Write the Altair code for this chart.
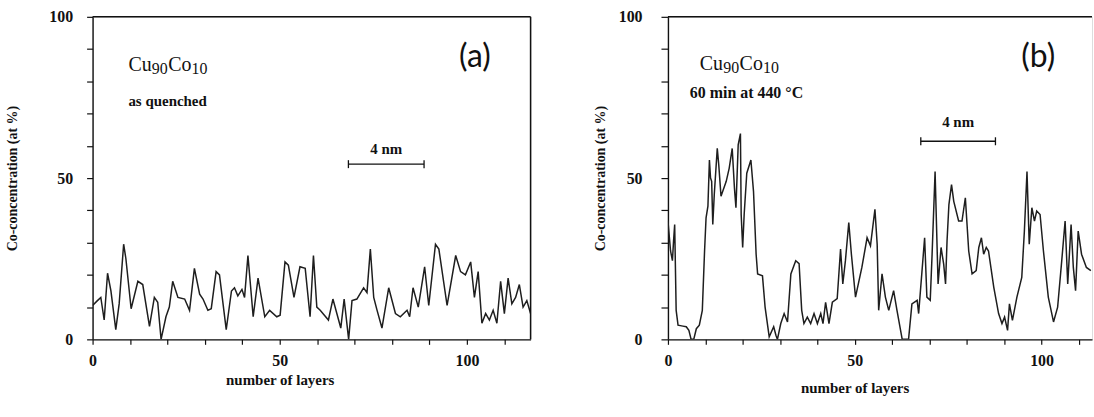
import altair as alt
import pandas as pd

# ---- panel (a): as quenched ----
layers_a = [0, 1.3, 2.2, 3.1, 4, 4.9, 6.2, 7.1, 8.3, 8.9, 10.3, 12.1, 13.4, 15.2, 16.5, 17.4,
            18.3, 19.6, 20.5, 21.4, 22.8, 24.6, 25.9, 27.2, 28.6, 29.5, 30.8, 31.7, 33, 33.9,
            35.7, 37.1, 37.9, 38.8, 39.9, 40.6, 41.5, 42.9, 44.2, 46, 47.3, 49.2, 50.1, 51.4,
            52.3, 53.8, 55.4, 56.8, 58.1, 59, 59.9, 60.8, 63, 64.2, 66.3, 67.2, 68.4, 69.3,
            70.6, 72.4, 73.3, 74.2, 75.1, 76, 77.3, 79.1, 80.9, 82.2, 84, 84.7, 85.6, 87,
            88.7, 89.8, 91.6, 92.5, 94.7, 97, 98.3, 99.6, 101, 102, 103, 104, 105, 106, 107,
            108, 109, 110, 111, 112, 113, 114, 115, 116, 117]
conc_a = [10.5, 12, 13, 6, 20.5, 15, 3, 11, 29.5, 25, 9.5, 18, 17, 4, 13, 11.5,
          0, 7, 10, 18, 13, 12.5, 9, 22, 14, 12.5, 9, 9.5, 21, 20,
          3, 15, 16, 13.5, 15.5, 13, 26, 7, 19, 7, 9, 7, 7.5, 24,
          23, 13, 22.5, 22, 7, 26, 10, 9, 6, 12.5, 3.5, 12.5, 0, 12,
          12.5, 16, 14.5, 28, 13, 9, 3.5, 16, 8, 7, 9, 7, 16, 10,
          22.5, 10.5, 29.5, 28, 10.5, 26, 21, 20, 24, 13, 21, 5, 8, 6, 9,
          5, 18, 8, 19, 11, 13, 17, 10, 12, 8]

# ---- panel (b): 60 min at 440 °C ----
layers_b = [0, 0.7, 1.2, 1.5, 1.8, 2.2, 2.7, 4, 4.9, 5.6, 6.2, 6.9, 7.6, 8.4, 9.2, 9.8,
            10.2, 10.7, 11.1, 11.4, 11.7, 12, 12.4, 13.2, 13.6, 14.2, 15.6, 16.4, 17.2, 17.8,
            18.2, 18.8, 19.4, 19.6, 20, 20.4, 21.1, 22.2, 22.9, 23.6, 24, 25.3, 26, 27.1,
            28.3, 28.9, 29.3, 30.2, 31.1, 32, 32.9, 34.2, 35.1, 35.8, 36.4, 37.3, 38.2, 39.1,
            40, 40.9, 41.5, 42.2, 43.1, 44, 45.3, 46.2, 46.8, 47.5, 48.4, 49.1, 50.2, 51.9,
            53.3, 54.2, 55.4, 56, 56.4, 57.3, 58.2, 59.1, 60.4, 61.3, 62.7, 64.4, 65.3, 66.7,
            67.1, 68.7, 69.3, 70.2, 70.7, 71.5, 72.3, 73.1, 73.8, 74.3, 74.7, 75.2, 75.9,
            76.5, 77.8, 78.7, 79.6, 80.5, 81.4, 82.5, 83.2, 83.9, 84.5, 85.2, 85.8, 87.2,
            88.5, 89.4, 90.1, 90.9, 91.4, 92.2, 93.4, 94.7, 95.4, 96.1, 96.7, 97.4, 98.1,
            98.7, 99.6, 100.5, 101.8, 103.2, 104.3, 105.4, 106.3, 107, 107.9, 108.5, 109.1,
            109.8, 110.7, 112, 113.2]
conc_b = [36.7, 27.4, 24.4, 30.5, 35.6, 9, 4.4, 4.1, 3.9, 2.8, 0, 0, 3.3, 4.4, 9, 27.4,
          37.7, 41.3, 55.6, 50, 49, 35.6, 44.9, 59.2, 54.1, 44.4, 49, 53.1, 59.2, 46.9,
          40.8, 60.3, 63.8, 38.7, 28.5, 38.7, 51.5, 55.6, 45.9, 26.4, 20.3, 19.7, 10, 0.8,
          3.9, 1.3, 0, 4.9, 8, 5.4, 20.3, 24.4, 23.5, 9, 4.9, 6.9, 4.9, 8,
          4.9, 8, 4.9, 11.5, 4.9, 11.5, 12.6, 28, 17.2, 24.4, 36.2, 26.4, 13.1, 22.3,
          31.5, 29, 40.3, 29.5, 9, 20.3, 13.1, 9, 15.1, 9, 0, 0, 11, 12.1,
          8, 31.5, 13.1, 12.1, 26.4, 52, 17.2, 28.5, 23.3, 17.2, 30.5, 41.8, 48,
          42.8, 36.7, 36.7, 43.9, 27.4, 20.3, 21.3, 28.5, 31.5, 26.4, 28.5, 27.4, 16.2,
          8, 4.9, 6.9, 2.8, 11, 5.9, 13.1, 19.2, 33.6, 52, 29.5, 40.8, 36.7,
          39.8, 38.7, 27.4, 13.1, 5.4, 10, 24.4, 36.7, 17.2, 35.6, 22.3, 15.1,
          33.6, 26.4, 22.3, 21.3]

x_ticks = list(range(0, 120, 10))
y_ticks = list(range(0, 101, 10))

SERIF = "Liberation Serif"
INK = "#111111"
LBL = "datum.value % 50 === 0 ? datum.label : ''"
H = 324


def one_row():
    return alt.Chart(pd.DataFrame({"k": [0]}))


def panel(layers, conc, xmax, width, y_tick, y_lpad, y_tpad, x_tpad, title_x, right_frame, notes):
    df = pd.DataFrame({"layer": layers, "conc": conc})
    xaxis = alt.Axis(values=x_ticks, labelExpr=LBL, title="number of layers", grid=False,
                     tickSize=5, tickColor=INK, domainColor=INK, domainWidth=1.4, tickWidth=1.2,
                     labelFont=SERIF, labelFontWeight="bold", labelFontSize=16, labelColor=INK,
                     labelPadding=8, labelFlush=False, labelOverlap=False,
                     titleFont=SERIF, titleFontWeight="bold", titleFontSize=15,
                     titleColor=INK, titlePadding=x_tpad, titleX=title_x)
    yaxis = alt.Axis(values=y_ticks, labelExpr=LBL, title="Co-concentration (at %)", grid=False,
                     tickSize=y_tick, tickColor=INK, domainColor=INK, domainWidth=1.4, tickWidth=1.2,
                     labelFont=SERIF, labelFontWeight="bold", labelFontSize=16, labelColor=INK,
                     labelPadding=y_lpad, labelOverlap=False,
                     titleFont=SERIF, titleFontWeight="bold", titleFontSize=14,
                     titleColor=INK, titlePadding=y_tpad)
    line = alt.Chart(df).mark_line(color="#1e1e1e", strokeWidth=1.5, clip=True).encode(
        x=alt.X("layer:Q", scale=alt.Scale(domain=[0, xmax], nice=False, zero=False), axis=xaxis),
        y=alt.Y("conc:Q", scale=alt.Scale(domain=[0, 100], nice=False), axis=yaxis),
    )
    frame = [one_row().mark_rule(color=INK, strokeWidth=1.5).encode(
        x=alt.value(0), x2=alt.value(width), y=alt.value(0))]
    if right_frame:
        frame.append(one_row().mark_rule(color=INK, strokeWidth=1.5).encode(
            x=alt.value(width), y=alt.value(0), y2=alt.value(H)))
    return alt.layer(line, *frame, *notes).properties(width=width, height=H)


def formula(x, y):
    base = one_row()
    parts = [
        base.mark_text(text="Cu", font=SERIF, fontSize=20, align="left", color=INK),
        base.mark_text(text="90", font=SERIF, fontSize=16, align="left", dx=23.5, dy=4, color=INK),
        base.mark_text(text="Co", font=SERIF, fontSize=20, align="left", dx=40, color=INK),
        base.mark_text(text="10", font=SERIF, fontSize=16, align="left", dx=63.5, dy=4, color=INK),
    ]
    return [p.encode(x=alt.value(x), y=alt.value(y)) for p in parts]


def scale_bar(x1, x2, y, ty):
    b = one_row()
    return [
        b.mark_rule(color=INK, strokeWidth=1.3).encode(x=alt.value(x1), x2=alt.value(x2), y=alt.value(y)),
        b.mark_rule(color=INK, strokeWidth=1.3).encode(x=alt.value(x1), y=alt.value(y - 4), y2=alt.value(y + 4)),
        b.mark_rule(color=INK, strokeWidth=1.3).encode(x=alt.value(x2), y=alt.value(y - 4), y2=alt.value(y + 4)),
        b.mark_text(text="4 nm", font=SERIF, fontWeight="bold", fontSize=15, color=INK,
                    baseline="alphabetic").encode(x=alt.value((x1 + x2) / 2), y=alt.value(ty)),
    ]


def tag(label, x, y):
    return one_row().mark_text(text=label, font="Lato", fontSize=32, color=INK,
                               baseline="middle").encode(x=alt.value(x), y=alt.value(y))


notes_a = formula(36, 48) + [
    one_row().mark_text(text="as quenched", font=SERIF, fontWeight="bold", fontSize=15,
                        align="left", color=INK).encode(x=alt.value(36), y=alt.value(85)),
    tag("(a)", 384, 40),
] + scale_bar(257, 333, 148, 138)

notes_b = formula(32, 47) + [
    one_row().mark_text(text="60 min at 440 °C", font=SERIF, fontWeight="bold", fontSize=16,
                        align="left", color=INK).encode(x=alt.value(22), y=alt.value(77)),
    tag("(b)", 372, 40),
] + scale_bar(254, 329, 125, 111)

pa = panel(layers_a, conc_a, 117, 440, 6, 14, 29, 4, 188, True, notes_a)
pb = panel(layers_b, conc_b, 113.5, 426, 7, 19, 11, 12, 187.5, False, notes_b)

chart = alt.hconcat(pa, pb, spacing=60).properties(
    padding={"left": 5, "top": 7, "right": 0, "bottom": 0}
).configure_view(stroke=None).configure(background="white")

chart.save("out.html", embed_options={"renderer": "svg", "actions": False})
